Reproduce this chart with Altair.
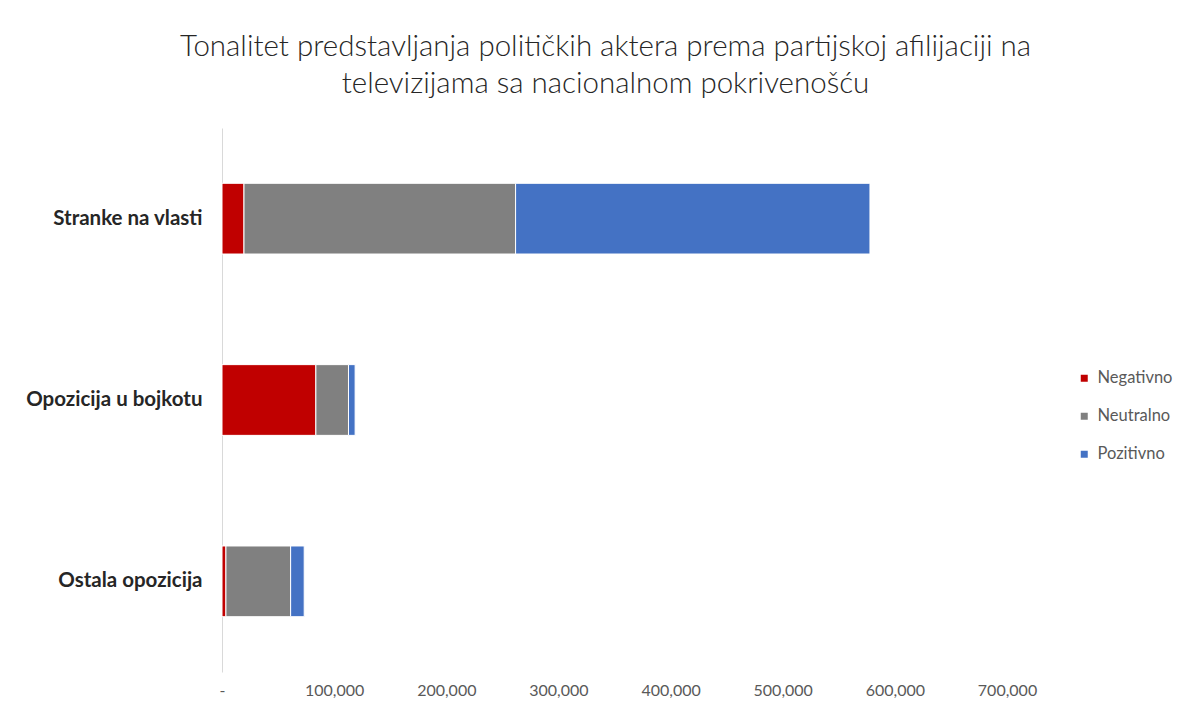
import altair as alt
import pandas as pd

categories = ["Stranke na vlasti", "Opozicija u bojkotu", "Ostala opozicija"]
negativno = [19600, 83700, 3500]
neutralno = [242200, 29100, 57700]
pozitivno = [316000, 5900, 12100]
tones = ["Negativno", "Neutralno", "Pozitivno"]
colors = ["#C00000", "#808080", "#4472C4"]
x_ticks = [0, 100000, 200000, 300000, 400000, 500000, 600000, 700000]

rows = []
for i, c in enumerate(categories):
    for j, (t, vals) in enumerate(zip(tones, [negativno, neutralno, pozitivno])):
        rows.append({"kategorija": c, "ton": t, "vrednost": vals[i], "red": j})
df = pd.DataFrame(rows)

chart = alt.Chart(df).mark_bar(stroke="white", strokeWidth=1).encode(
    y=alt.Y("kategorija:N", sort=categories, title=None,
            scale=alt.Scale(paddingInner=0.61, paddingOuter=0.305),
            axis=alt.Axis(domain=True, domainColor="#D9D9D9", domainWidth=1,
                          ticks=False, labelFont="Lato", labelFontSize=20.5,
                          labelFontWeight="bold", labelColor="#262626",
                          labelPadding=20, labelLimit=300)),
    x=alt.X("vrednost:Q", stack="zero", title=None,
            scale=alt.Scale(domain=[0, 700000], nice=False),
            axis=alt.Axis(values=x_ticks, grid=False, domain=False, ticks=False,
                          labelExpr="datum.value == 0 ? '-' : format(datum.value, ',')",
                          labelFont="Lato", labelFontSize=16, labelColor="#595959",
                          labelPadding=10, labelFlush=False)),
    color=alt.Color("ton:N", sort=tones,
                    scale=alt.Scale(domain=tones, range=colors),
                    legend=alt.Legend(title=None, orient="none", legendX=854, legendY=242,
                                      symbolType="square", symbolSize=49,
                                      symbolStrokeWidth=0,
                                      labelFont="Lato", labelFontSize=16.5,
                                      labelColor="#595959", rowPadding=21,
                                      labelOffset=5)),
    order=alt.Order("red:Q"),
).properties(
    width=785,
    height=544,
    title=alt.Title(
        ["Tonalitet predstavljanja političkih aktera prema partijskoj afilijaciji na",
         "televizijama sa nacionalnom pokrivenošću"],
        font="Lato", fontSize=29.5, fontWeight=300, color="#262626",
        lineHeight=37, offset=29, anchor="middle", dx=-9),
    autosize=alt.AutoSizeParams(type="none"),
    padding={"left": 214, "top": 120, "right": 170, "bottom": 30},
).configure_view(stroke=None)

chart.save("out.html", embed_options={"renderer": "svg", "actions": False})
